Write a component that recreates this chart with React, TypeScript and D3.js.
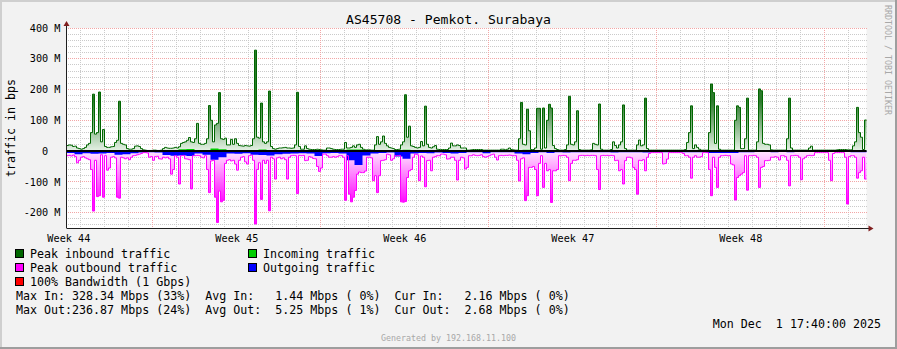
import React from "react";
import * as d3 from "d3";

const W = 897;
const H = 349;
const END_TIME = Date.UTC(2025, 11, 1, 17, 40);
const SPAN_HOURS = 800;
const START_TIME = END_TIME - SPAN_HOURS * 3600000;
const PEAK_STEP_HOURS = 2;
const AVG_STEP_HOURS = 8;

const TITLE = "AS45708 - Pemkot. Surabaya";
const Y_AXIS_TITLE = "traffic in bps";

// Peak inbound traffic (Mbps), one value per 2 hours
const peakInbound = [
  18, 20, 19, 15, 16, 10, 8, 6, 8, 12, 20, 25, 60, 185, 55, 60, 192, 30, 70, 15,
  12, 12, 14, 15, 28, 35, 162, 25, 22, 20, 8, 6, 6, 8, 16, 17, 15, 8, 4, 3,
  2, 2, 2, 3, 3, 2, 2, 3, 8, 12, 10, 9, 9, 10, 12, 10, 14, 25, 28, 30,
  35, 44, 30, 28, 40, 90, 25, 22, 22, 25, 40, 148, 100, 30, 85, 90, 190, 40, 38, 42,
  20, 20, 38, 22, 40, 25, 18, 17, 16, 18, 17, 16, 18, 40, 328, 45, 42, 156, 30, 25,
  30, 195, 15, 8, 6, 8, 10, 10, 11, 12, 10, 10, 9, 10, 20, 191, 15, 6, 6, 17,
  8, 6, 5, 5, 5, 6, 5, 4, 3, 3, 10, 10, 8, 6, 5, 5, 5, 6, 6, 28,
  10, 10, 12, 17, 12, 20, 22, 12, 6, 4, 4, 4, 3, 3, 20, 47, 22, 30, 49, 25,
  17, 12, 10, 8, 5, 5, 6, 20, 30, 183, 45, 81, 17, 15, 12, 10, 12, 31, 17, 146,
  22, 12, 10, 14, 18, 6, 5, 5, 5, 5, 5, 10, 26, 17, 17, 20, 18, 10, 10, 10,
  3, 3, 4, 5, 5, 5, 5, 5, 3, 3, 3, 3, 3, 3, 3, 3, 3, 6, 6, 4,
  6, 10, 5, 4, 3, 3, 40, 158, 22, 20, 136, 66, 5, 5, 10, 139, 139, 6, 140, 10,
  100, 152, 140, 18, 8, 5, 3, 3, 3, 5, 20, 178, 22, 20, 30, 131, 5, 3, 3, 3,
  3, 3, 4, 25, 22, 20, 153, 6, 3, 3, 3, 3, 5, 30, 18, 10, 20, 30, 150, 8,
  3, 3, 3, 3, 3, 20, 36, 17, 20, 172, 8, 3, 3, 3, 3, 3, 3, 3, 3, 3,
  3, 3, 3, 3, 3, 3, 3, 3, 3, 5, 28, 60, 147, 8, 20, 12, 6, 3, 3, 3,
  3, 60, 218, 190, 25, 147, 6, 3, 3, 3, 3, 3, 3, 3, 100, 147, 142, 8, 8, 40,
  172, 3, 3, 3, 3, 30, 202, 196, 25, 22, 22, 20, 4, 3, 3, 3, 3, 3, 3, 3,
  40, 172, 10, 3, 3, 3, 3, 3, 3, 3, 3, 10, 16, 3, 3, 3, 3, 3, 3, 3,
  3, 3, 3, 3, 3, 4, 5, 5, 5, 5, 4, 4, 4, 17, 30, 142, 60, 45, 5, 101,
];

// Peak outbound traffic (Mbps, drawn below zero), one value per 2 hours
const peakOutbound = [
  15, 14, 16, 13, 18, 38, 30, 20, 18, 22, 25, 28, 60, 195, 30, 148, 145, 12, 150, 15,
  62, 55, 20, 18, 22, 150, 153, 20, 22, 25, 22, 28, 20, 15, 14, 12, 10, 8, 5, 5,
  6, 20, 18, 30, 18, 17, 25, 26, 20, 22, 20, 25, 75, 60, 15, 20, 107, 15, 14, 25,
  26, 28, 123, 15, 15, 14, 15, 20, 22, 15, 60, 135, 32, 30, 150, 232, 130, 165, 160, 40,
  30, 28, 32, 30, 42, 62, 30, 20, 18, 35, 42, 15, 13, 30, 237, 60, 38, 157, 30, 40,
  30, 194, 20, 25, 91, 22, 20, 25, 22, 28, 91, 20, 15, 14, 15, 138, 14, 15, 14, 31,
  30, 18, 20, 24, 25, 50, 66, 55, 10, 10, 15, 20, 20, 18, 20, 18, 15, 15, 20, 160,
  15, 140, 165, 150, 128, 75, 68, 70, 70, 65, 20, 20, 22, 96, 80, 135, 80, 31, 30, 28,
  10, 12, 30, 25, 15, 15, 14, 165, 166, 164, 86, 64, 60, 20, 10, 12, 96, 16, 20, 116,
  31, 30, 64, 20, 18, 15, 15, 10, 10, 12, 26, 25, 20, 20, 30, 94, 30, 20, 22, 58,
  53, 15, 15, 12, 14, 15, 14, 12, 18, 20, 18, 15, 12, 10, 20, 29, 15, 14, 15, 14,
  14, 13, 14, 15, 15, 30, 97, 25, 22, 161, 145, 53, 53, 50, 60, 145, 40, 15, 118, 40,
  64, 60, 167, 64, 64, 60, 15, 15, 14, 15, 20, 96, 40, 30, 30, 28, 15, 14, 14, 15,
  14, 15, 14, 14, 15, 60, 125, 15, 14, 15, 14, 15, 14, 15, 31, 30, 64, 60, 107, 31,
  20, 20, 22, 53, 60, 140, 30, 31, 28, 64, 20, 8, 5, 5, 5, 5, 5, 5, 42, 40,
  26, 5, 5, 5, 5, 5, 5, 5, 8, 15, 15, 20, 88, 20, 15, 20, 20, 18, 5, 5,
  5, 60, 145, 20, 53, 118, 20, 15, 15, 14, 15, 15, 42, 45, 159, 86, 80, 75, 70, 15,
  127, 15, 15, 14, 15, 20, 118, 53, 50, 31, 31, 30, 20, 20, 18, 20, 29, 15, 15, 18,
  30, 113, 15, 15, 14, 15, 20, 93, 25, 20, 15, 14, 15, 14, 5, 5, 5, 5, 5, 5,
  5, 30, 96, 8, 5, 5, 5, 5, 5, 20, 172, 18, 15, 15, 20, 88, 70, 64, 20, 91,
];

// Incoming traffic average (Mbps), one value per 8 hours
const incomingAvg = [
  2, 2, 2, 3, 3, 2, 2, 2, 2, 1, 1, 1, 2, 2, 6, 7, 3, 3, 8, 6,
  2, 2, 2, 3, 5, 3, 2, 2, 2, 2, 1, 1, 1, 1, 2, 5, 5, 2, 2, 2,
  2, 2, 4, 2, 2, 2, 2, 2, 2, 2, 1, 1, 1, 1, 1, 1, 3, 4, 2, 2,
  1, 1, 2, 1, 1, 1, 1, 1, 1, 1, 1, 1, 1, 1, 1, 1, 1, 1, 1, 1,
  2, 2, 1, 1, 1, 1, 1, 1, 1, 1, 1, 1, 1, 1, 1, 1, 1, 1, 2, 2,
];

// Outgoing traffic average (Mbps, drawn below zero), one value per 8 hours
const outgoingAvg = [
  6, 10, 7, 9, 8, 6, 12, 10, 7, 5, 4, 5, 13, 15, 14, 16, 8, 12, 28, 20,
  8, 9, 7, 12, 13, 14, 10, 9, 8, 7, 8, 16, 7, 6, 8, 30, 45, 14, 8, 6,
  5, 18, 25, 8, 6, 7, 5, 6, 8, 6, 4, 4, 7, 4, 4, 4, 8, 10, 6, 4,
  6, 4, 5, 4, 4, 4, 4, 4, 5, 4, 4, 4, 5, 4, 4, 4, 4, 4, 4, 4,
  6, 6, 6, 6, 4, 4, 3, 3, 4, 3, 4, 3, 3, 3, 3, 3, 3, 3, 4, 4,
];

const yMajorTicks = [400, 300, 200, 100, 0, -100, -200];
const yTickLabels = ["400 M", "300 M", "200 M", "100 M", "0  ", "-100 M", "-200 M"];
const yMinorStep = 20;
const Y_DOMAIN = [-250, 400];

const legendLeft = [
  { label: "Peak inbound traffic", color: "#006600" },
  { label: "Peak outbound traffic", color: "#FF00FF" },
  { label: "100% Bandwidth (1 Gbps)", color: "#FF0000" },
];
const legendRight = [
  { label: "Incoming traffic", color: "#00CC00" },
  { label: "Outgoing traffic", color: "#0000FF" },
];
const statLines = [
  "Max In: 328.34 Mbps (33%)  Avg In:   1.44 Mbps ( 0%)  Cur In:   2.16 Mbps ( 0%)",
  "Max Out:236.87 Mbps (24%)  Avg Out:  5.25 Mbps ( 1%)  Cur Out:  2.68 Mbps ( 0%)",
];
const DATE_TEXT = "Mon Dec  1 17:40:00 2025";
const WATERMARK = "Generated by 192.168.11.100";
const SIGNATURE = "RRDTOOL / TOBI OETIKER";

const MONO = "'DejaVu Sans Mono', 'Liberation Mono', monospace";

type Pt = { t: number; v: number };

function toSeries(vals: number[], stepH: number, sign: number): Pt[] {
  const pts = vals.map((v, i) => ({ t: START_TIME + i * stepH * 3600000, v: sign * v }));
  pts.push({ t: START_TIME + vals.length * stepH * 3600000, v: sign * vals[vals.length - 1] });
  return pts;
}

export default function App() {
  const L = 66.5, R = 866.5, T = 28, B = 228;
  const x = d3.scaleUtc().domain([START_TIME, END_TIME]).range([L, R]);
  const y = d3.scaleLinear().domain(Y_DOMAIN).range([B, T]);
  const y0 = y(0);
  const GRAD_PX = 50;

  const area = d3
    .area<Pt>()
    .x((d) => x(d.t))
    .y0(y0)
    .y1((d) => y(d.v))
    .curve(d3.curveStepAfter);
  const line = d3
    .line<Pt>()
    .x((d) => x(d.t))
    .y((d) => y(d.v))
    .curve(d3.curveStepAfter);

  const pin = toSeries(peakInbound, PEAK_STEP_HOURS, 1);
  const pout = toSeries(peakOutbound, PEAK_STEP_HOURS, -1);
  const ain = toSeries(incomingAvg, AVG_STEP_HOURS, 1);
  const aout = toSeries(outgoingAvg, AVG_STEP_HOURS, -1);

  const yMinor: number[] = [];
  for (let v = Y_DOMAIN[0] + 10; v < Y_DOMAIN[1]; v += yMinorStep) {
    if (v % 100 !== 0) yMinor.push(v);
  }
  const dayTicks = d3.utcDay.range(new Date(START_TIME + 1), new Date(END_TIME));
  const weekTicks = d3.utcSunday.range(new Date(START_TIME + 1), new Date(END_TIME));
  const minorDays = dayTicks.filter((d) => d.getUTCDay() !== 0);
  const labelWeeks = d3.utcSunday
    .range(new Date(START_TIME - 7 * 86400000), new Date(END_TIME))
    .map((d) => new Date(d.getTime() + 3.5 * 86400000))
    .filter((d) => d.getTime() >= START_TIME && d.getTime() <= END_TIME);
  const weekFmt = d3.utcFormat("%V");

  const legendY = [254, 268, 282];
  const GX0 = 67, GX1 = 867, GY0 = 28, GY1 = 228;
  const px = (v: number) => Math.floor(v);
  const MINOR = "#cacaca";
  const MAJOR = "#f2a6a6";

  return (
    <>
      <style>{`body{margin:0;} svg{display:block;}`}</style>
      <svg width={W} height={H} viewBox={`0 0 ${W} ${H}`} fontFamily={MONO}>
        <defs>
          <linearGradient id="gIn" gradientUnits="userSpaceOnUse" x1={0} x2={0} y1={y0} y2={y0 - GRAD_PX}>
            <stop offset="0" stopColor="#e6f2e6" />
            <stop offset="1" stopColor="#2c7a2c" />
          </linearGradient>
          <linearGradient id="gOut" gradientUnits="userSpaceOnUse" x1={0} x2={0} y1={y0} y2={y0 + GRAD_PX}>
            <stop offset="0" stopColor="#ffe6ff" />
            <stop offset="1" stopColor="#ff10ff" />
          </linearGradient>
          <pattern id="dotMinH" patternUnits="userSpaceOnUse" width={2} height={1}>
            <rect x={0} y={0} width={1} height={1} fill={MINOR} />
          </pattern>
          <pattern id="dotMajH" patternUnits="userSpaceOnUse" width={2} height={1}>
            <rect x={0} y={0} width={1} height={1} fill={MAJOR} />
          </pattern>
          <pattern id="dotMinV" patternUnits="userSpaceOnUse" width={1} height={2}>
            <rect x={0} y={0} width={1} height={1} fill={MINOR} />
          </pattern>
          <pattern id="dotMajV" patternUnits="userSpaceOnUse" width={1} height={2}>
            <rect x={0} y={0} width={1} height={1} fill={MAJOR} />
          </pattern>
        </defs>
        {/* canvas + frame */}
        <rect x={0} y={0} width={W} height={H} fill="#f2f2f2" />
        <line x1={0} y1={1} x2={W} y2={1} stroke="#cfcfcf" strokeWidth={2} />
        <line x1={1} y1={0} x2={1} y2={H} stroke="#cfcfcf" strokeWidth={2} />
        <line x1={0} y1={H - 1} x2={W} y2={H - 1} stroke="#9e9e9e" strokeWidth={2} />
        <line x1={W - 1} y1={0} x2={W - 1} y2={H} stroke="#9e9e9e" strokeWidth={2} />

        {/* plot background */}
        <rect x={L} y={T} width={R - L} height={B - T} fill="#ffffff" />

        {/* grid (dotted, pixel exact) */}
        <g shapeRendering="crispEdges">
          {yMinor.map((v) => (
            <rect key={"ym" + v} x={GX0} y={px(y(v))} width={GX1 - GX0} height={1} fill="url(#dotMinH)" />
          ))}
          {minorDays.map((d) => (
            <rect key={"xm" + d.getTime()} x={px(x(d))} y={GY0} width={1} height={GY1 - GY0} fill="url(#dotMinV)" />
          ))}
          {yMajorTicks.map((v) => (
            <rect key={"yM" + v} x={GX0} y={px(y(v))} width={GX1 - GX0} height={1} fill="url(#dotMajH)" />
          ))}
          {weekTicks.map((d) => (
            <rect key={"xM" + d.getTime()} x={px(x(d))} y={GY0} width={1} height={GY1 - GY0} fill="url(#dotMajV)" />
          ))}
        </g>

        {/* inbound */}
        <path d={area(pin) || ""} fill="url(#gIn)" />
        <path d={area(ain) || ""} fill="#00cc00" />
        <path d={line(pin) || ""} fill="none" stroke="#006600" strokeWidth={1} />

        {/* outbound */}
        <path d={area(pout) || ""} fill="url(#gOut)" />
        <path d={area(aout) || ""} fill="#0000ff" />
        <path d={line(pout) || ""} fill="none" stroke="#ff00ff" strokeWidth={1} />

        {/* zero rule */}
        <line x1={L} x2={R} y1={y0} y2={y0} stroke="#000000" strokeWidth={2} />

        {/* axes */}
        <line x1={L} x2={L} y1={B} y2={T - 5} stroke="#1f1f1f" strokeWidth={1} />
        <line x1={L} x2={R + 3} y1={B + 0.5} y2={B + 0.5} stroke="#1f1f1f" strokeWidth={1} />
        <path d={`M${L - 3},${T - 2} L${L + 3},${T - 2} L${L},${T - 7} Z`} fill="#801f1f" />
        <path d={`M${R + 2},${B - 2.5} L${R + 2},${B + 3.5} L${R + 7},${B + 0.5} Z`} fill="#801f1f" />

        {/* y tick labels */}
        <g fontSize={10.2} fill="#000" textAnchor="end" style={{ whiteSpace: "pre" }}>
          {yMajorTicks.map((v, i) => (
            <text key={"yl" + v} x={60.5} y={y(v) + 3.7} xmlSpace="preserve">
              {yTickLabels[i]}
            </text>
          ))}
        </g>
        {/* x labels */}
        <g fontSize={10.2} fill="#000" textAnchor="middle">
          {labelWeeks.map((d) => (
            <text key={"wl" + d.getTime()} x={x(d)} y={241.5}>
              {"Week " + weekFmt(d)}
            </text>
          ))}
        </g>

        {/* titles */}
        <text x={448.5} y={24} fontSize={13.1} textAnchor="middle" fill="#000">
          {TITLE}
        </text>
        <text
          transform={`translate(15,${(T + B) / 2}) rotate(-90)`}
          fontSize={11.65}
          textAnchor="middle"
          fill="#000"
        >
          {Y_AXIS_TITLE}
        </text>
        <text transform="translate(885,5) rotate(90)" fontSize={8.3} fill="#a8a8a8">
          {SIGNATURE}
        </text>

        {/* legend */}
        <g fontSize={11.65} fill="#000">
          {legendLeft.map((it, i) => (
            <g key={"ll" + i}>
              <rect x={15.5} y={legendY[i] - 4.5} width={8} height={8} fill={it.color} stroke="#000" />
              <text x={30} y={legendY[i] + 4}>
                {it.label}
              </text>
            </g>
          ))}
          {legendRight.map((it, i) => (
            <g key={"lr" + i}>
              <rect x={248.5} y={legendY[i] - 4.5} width={8} height={8} fill={it.color} stroke="#000" />
              <text x={263} y={legendY[i] + 4}>
                {it.label}
              </text>
            </g>
          ))}
          {statLines.map((s, i) => (
            <text key={"st" + i} x={16} y={300 + i * 14} style={{ whiteSpace: "pre" }} xmlSpace="preserve">
              {s}
            </text>
          ))}
          <text x={881} y={328} textAnchor="end" style={{ whiteSpace: "pre" }} xmlSpace="preserve">
            {DATE_TEXT}
          </text>
        </g>
        <text x={448.5} y={341} fontSize={8.3} textAnchor="middle" fill="#a8a8a8">
          {WATERMARK}
        </text>
      </svg>
    </>
  );
}
